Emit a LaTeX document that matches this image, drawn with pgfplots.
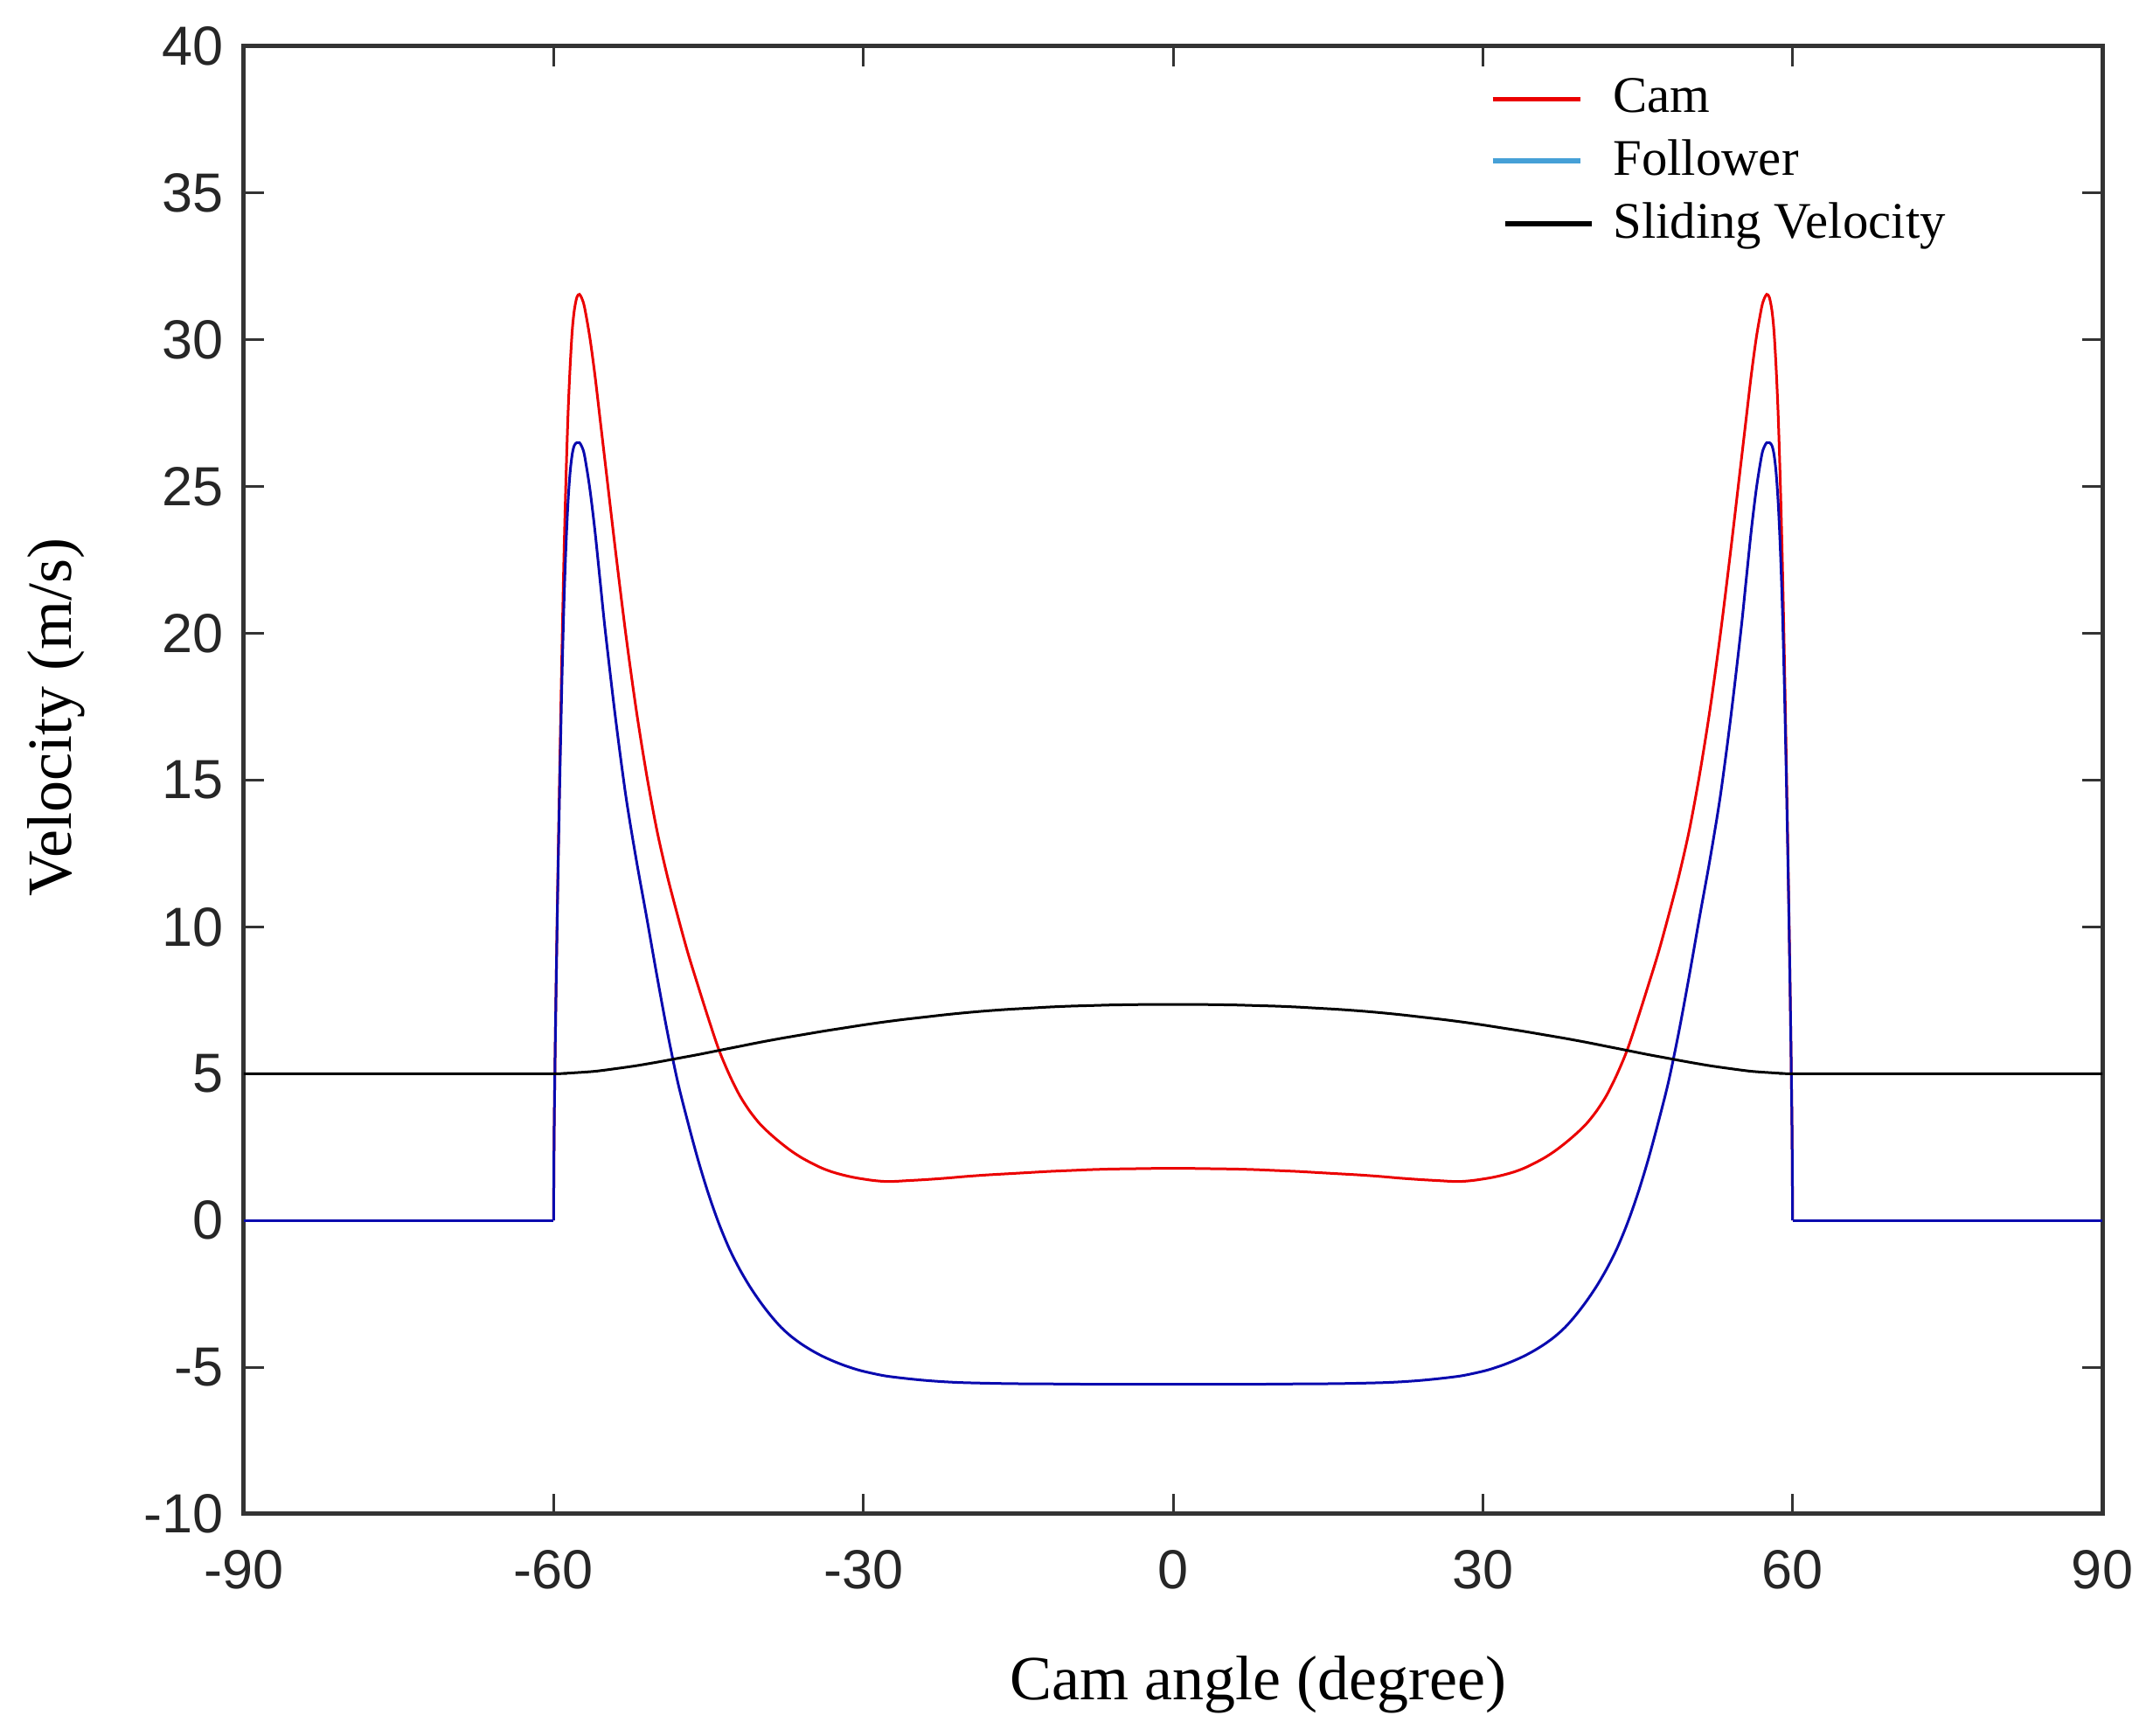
\documentclass[border=0pt]{standalone}
\usepackage{fontspec}
\setmainfont{Liberation Serif}
\newfontfamily\ticksf{Liberation Sans}
\usepackage{pgfplots}
\pgfplotsset{compat=1.18}
\definecolor{camred}{RGB}{235,0,0}
\definecolor{follblue}{RGB}{10,10,175}
\definecolor{follleg}{RGB}{70,160,215}
\pgfplotsset{
  stdleg/.style={legend image code/.code={\draw[##1, line width=1.1pt] (0pt,0pt) -- (20pt,0pt);}},
  slidleg/.style={legend image code/.code={\draw[##1, line width=1.1pt] (2.8pt,0pt) -- (22.6pt,0pt);}},
}
\begin{document}
\begin{tikzpicture}
\begin{axis}[
  scale only axis,
  width=425.2pt, height=335.8pt,
  xmin=-90, xmax=90, ymin=-10, ymax=40,
  xtick={-90,-60,-30,0,30,60,90},
  xticklabels={-90,-60,-30,0,30,60,90},
  ytick={-10,-5,0,5,10,15,20,25,30,35,40},
  yticklabels={-10,-5,0,5,10,15,20,25,30,35,40},
  tick align=inside,
  major tick length=4.6pt,
  tick style={black!80, line width=0.6pt},
  axis line style={black!80, line width=1pt},
  ticklabel style={font=\ticksf\fontsize{12.6}{15}\selectfont, text=black!85},
  xticklabel style={yshift=-4.8pt},
  yticklabel style={xshift=-1.1pt},
  xlabel={Cam angle (degree)},
  ylabel={Velocity (m/s)},
  label style={font=\fontsize{14.4}{17}\selectfont},
  xlabel style={at={(rel axis cs:0.5457,-0.1263)}, anchor=base},
  ylabel style={at={(rel axis cs:-0.0931,0.5426)}, anchor=base},
  legend style={draw=none, fill=none, at={(rel axis cs:0.6632,0.9904)}, anchor=north west,
    font=\fontsize{11.75}{14}\selectfont, row sep=0.7pt,
    /tikz/every odd column/.append style={column sep=2.4pt}},
  legend cell align=left,
  stdleg,
]
\coordinate (bl) at (rel axis cs:0,0);
\coordinate (tr) at (rel axis cs:1,1);

% Cam
\addplot[camred, line width=0.6pt, forget plot] coordinates {(-90,0) (-60,0)};
\addplot[camred, line width=0.6pt, smooth, tension=0.5] coordinates {
(-60,0) (-59.95,3) (-59.8,7) (-59.6,11.5) (-59.4,15.5) (-59.2,19.3) (-59,22.6) (-58.8,25.3) (-58.6,27.5) (-58.4,29.1) (-58.2,30.3) (-58,31.0) (-57.75,31.45) (-57.5,31.55) (-57.25,31.4) (-57,31.1) (-56.5,30.1) (-56,28.8) (-55.5,27.3) (-55,25.8) (-54,22.8) (-53,19.95) (-52,17.4) (-51,15.2) (-50,13.3) (-49,11.75) (-48,10.4) (-47,9.12) (-46,7.98) (-45,6.87) (-44,5.82) (-43,4.98) (-42,4.27) (-41,3.72) (-40,3.28) (-39,2.94) (-38,2.64) (-37,2.37) (-36,2.14) (-35,1.95) (-34,1.78) (-33,1.65) (-32,1.55) (-31,1.47) (-30,1.41) (-29,1.36) (-28,1.33) (-27,1.33) (-26,1.35) (-24,1.39) (-22,1.44) (-20,1.5) (-18,1.55) (-16,1.59) (-14,1.63) (-12,1.67) (-10,1.7) (-8,1.73) (-6,1.75) (-4,1.76) (-2,1.77) (0,1.77)
(2,1.77) (4,1.76) (6,1.75) (8,1.73) (10,1.7) (12,1.67) (14,1.63) (16,1.59) (18,1.55) (20,1.5) (22,1.44) (24,1.39) (26,1.35) (27,1.33) (28,1.33) (29,1.36) (30,1.41) (31,1.47) (32,1.55) (33,1.65) (34,1.78) (35,1.95) (36,2.14) (37,2.37) (38,2.64) (39,2.94) (40,3.28) (41,3.72) (42,4.27) (43,4.98) (44,5.82) (45,6.87) (46,7.98) (47,9.12) (48,10.4) (49,11.75) (50,13.3) (51,15.2) (52,17.4) (53,19.95) (54,22.8) (55,25.8) (55.5,27.3) (56,28.8) (56.5,30.1) (57,31.1) (57.25,31.4) (57.5,31.55) (57.75,31.45) (58,31.0) (58.2,30.3) (58.4,29.1) (58.6,27.5) (58.8,25.3) (59,22.6) (59.2,19.3) (59.4,15.5) (59.6,11.5) (59.8,7) (59.95,3) (60,0)
};
\addlegendentry{Cam}
\addplot[camred, line width=0.6pt, forget plot] coordinates {(60,0) (90,0)};
\addlegendimage{follleg, line width=0.6pt}
\addlegendentry{Follower}

% Follower
\addplot[follblue, line width=0.6pt, forget plot] coordinates {(-90,0) (-60,0)};
\addplot[follblue, line width=0.6pt, smooth, tension=0.5, forget plot] coordinates {
(-60,0) (-59.95,3) (-59.8,7) (-59.6,11.3) (-59.4,15) (-59.2,18.3) (-59,21) (-58.8,23) (-58.6,24.5) (-58.4,25.5) (-58.2,26.1) (-58,26.4) (-57.75,26.5) (-57.5,26.5) (-57.25,26.35) (-57,26.05) (-56.5,24.95) (-56,23.5) (-55.5,21.8) (-55,20.1) (-54,17.1) (-53,14.45) (-52,12.3) (-51,10.35) (-50,8.35) (-49,6.45) (-48,4.75) (-47,3.35) (-46,2.05) (-45,0.9) (-44,-0.1) (-43,-0.95) (-42,-1.65) (-41,-2.25) (-40,-2.77) (-39,-3.23) (-38,-3.63) (-37,-3.95) (-36,-4.21) (-35,-4.43) (-34,-4.62) (-33,-4.78) (-32,-4.92) (-31,-5.04) (-30,-5.14) (-28,-5.29) (-26,-5.38) (-24,-5.45) (-22,-5.5) (-20,-5.53) (-16,-5.56) (-12,-5.57) (-8,-5.58) (0,-5.58)
(8,-5.58) (12,-5.57) (16,-5.56) (20,-5.53) (22,-5.5) (24,-5.45) (26,-5.38) (28,-5.29) (30,-5.14) (31,-5.04) (32,-4.92) (33,-4.78) (34,-4.62) (35,-4.43) (36,-4.21) (37,-3.95) (38,-3.63) (39,-3.23) (40,-2.77) (41,-2.25) (42,-1.65) (43,-0.95) (44,-0.1) (45,0.9) (46,2.05) (47,3.35) (48,4.75) (49,6.45) (50,8.35) (51,10.35) (52,12.3) (53,14.45) (54,17.1) (55,20.1) (55.5,21.8) (56,23.5) (56.5,24.95) (57,26.05) (57.25,26.35) (57.5,26.5) (57.75,26.5) (58,26.4) (58.2,26.1) (58.4,25.5) (58.6,24.5) (58.8,23) (59,21) (59.2,18.3) (59.4,15) (59.6,11.3) (59.8,7) (59.95,3) (60,0)
};
\addplot[follblue, line width=0.6pt, forget plot] coordinates {(60,0) (90,0)};

% Sliding velocity
\addplot[black, line width=0.6pt, smooth, tension=0.5, slidleg] coordinates {
(-90,5) (-75,5) (-60,5) (-59,5.01) (-58,5.03) (-56,5.08) (-54,5.17) (-52,5.27) (-50,5.39) (-48,5.52) (-46,5.65) (-44,5.79) (-42,5.93) (-40,6.07) (-38,6.2) (-36,6.32) (-34,6.44) (-32,6.55) (-30,6.66) (-28,6.76) (-26,6.85) (-24,6.93) (-22,7.01) (-20,7.08) (-18,7.14) (-16,7.19) (-14,7.23) (-12,7.27) (-10,7.3) (-8,7.32) (-6,7.34) (-4,7.35) (-2,7.36) (0,7.36)
(2,7.36) (4,7.35) (6,7.34) (8,7.32) (10,7.3) (12,7.27) (14,7.23) (16,7.19) (18,7.14) (20,7.08) (22,7.01) (24,6.93) (26,6.85) (28,6.76) (30,6.66) (32,6.55) (34,6.44) (36,6.32) (38,6.2) (40,6.07) (42,5.93) (44,5.79) (46,5.65) (48,5.52) (50,5.39) (52,5.27) (54,5.17) (56,5.08) (58,5.03) (59,5.01) (60,5) (75,5) (90,5)
};
\addlegendentry{Sliding Velocity}
\end{axis}
\pgfresetboundingbox
\path[use as bounding box] ([xshift=-55.8pt,yshift=-50.8pt]bl) rectangle ([xshift=11.6pt,yshift=10.6pt]tr);
\end{tikzpicture}
\end{document}
